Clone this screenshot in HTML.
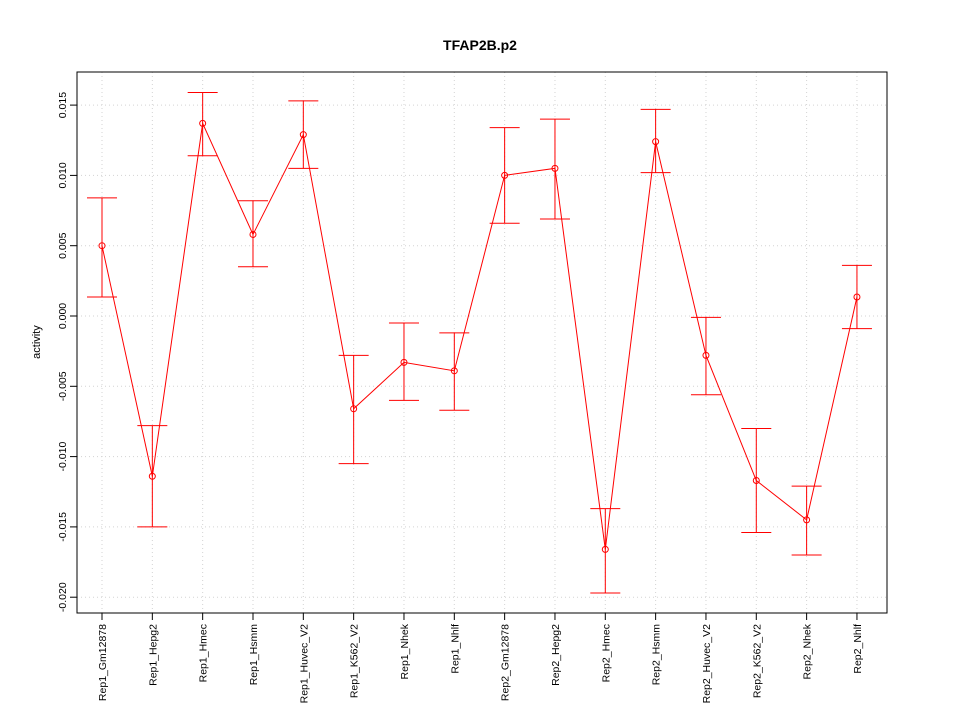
<!DOCTYPE html>
<html><head><meta charset="utf-8"><style>
body{margin:0;background:#fff}
svg text{font-family:"Liberation Sans",sans-serif}
</style></head><body>
<svg id="chart" width="960" height="720">
<text x="480" y="50" text-anchor="middle" font-size="14" font-weight="bold">TFAP2B.p2</text>
<text transform="translate(40,342) rotate(-90)" text-anchor="middle" font-size="11">activity</text>
<g id="grid"></g><g id="axes"></g><g id="marks"></g>
<rect x="77" y="72" width="810" height="541" fill="none" stroke="#000"/>
</svg>
<script>
const categories=["Rep1_Gm12878","Rep1_Hepg2","Rep1_Hmec","Rep1_Hsmm","Rep1_Huvec_V2","Rep1_K562_V2","Rep1_Nhek","Rep1_Nhlf","Rep2_Gm12878","Rep2_Hepg2","Rep2_Hmec","Rep2_Hsmm","Rep2_Huvec_V2","Rep2_K562_V2","Rep2_Nhek","Rep2_Nhlf"];
const values=[0.0050,-0.0114,0.0137,0.0058,0.0129,-0.0066,-0.0033,-0.0039,0.0100,0.0105,-0.0166,0.0124,-0.0028,-0.0117,-0.0145,0.00135];
const upper=[0.0084,-0.0078,0.0159,0.0082,0.0153,-0.0028,-0.0005,-0.0012,0.0134,0.0140,-0.0137,0.0147,-0.0001,-0.0080,-0.0121,0.0036];
const lower=[0.00135,-0.0150,0.0114,0.0035,0.0105,-0.0105,-0.0060,-0.0067,0.0066,0.0069,-0.0197,0.0102,-0.0056,-0.0154,-0.0170,-0.0009];
const yTicks=[-0.02,-0.015,-0.01,-0.005,0,0.005,0.01,0.015];
const yTickLabels=["-0.020","-0.015","-0.010","-0.005","0.000","0.005","0.010","0.015"];
const NS="http://www.w3.org/2000/svg";
function y(v){return 316-v*14060;}
function x(i){return 102+i*50.33;}
function mk(t,a,p){const e=document.createElementNS(NS,t);for(const k in a)e.setAttribute(k,a[k]);p.appendChild(e);return e;}
const grid=document.getElementById('grid'),axes=document.getElementById('axes'),marks=document.getElementById('marks');
yTicks.forEach((t,i)=>{
 const g=mk('line',{x1:77,x2:887,y1:y(t),y2:y(t),stroke:'#d3d3d3','stroke-dasharray':'1,3'},grid);
 
 
 const tk=mk('line',{x1:70,x2:77,y1:y(t),y2:y(t),stroke:'#000'},axes);
 
 
 const tx=mk('text',{transform:`translate(66,${y(t)}) rotate(-90)`,'text-anchor':'middle','font-size':10.5},axes);
 tx.textContent=yTickLabels[i];
 
 
});
categories.forEach((c,i)=>{
 const g=mk('line',{x1:x(i),x2:x(i),y1:72,y2:613,stroke:'#d3d3d3','stroke-dasharray':'1,3'},grid);
 
 
 const tk=mk('line',{x1:x(i),x2:x(i),y1:613,y2:620,stroke:'#000'},axes);
 
 
 const tx=mk('text',{transform:`translate(${x(i)+4},624) rotate(-90)`,'text-anchor':'end','font-size':10.5},axes);
 tx.textContent=c;
 
 
});
const pl=mk('polyline',{points:values.map((v,i)=>x(i)+','+y(v)).join(' '),fill:'none',stroke:'#f00'},marks);


values.forEach((v,i)=>{
 const eb=mk('path',{d:`M${x(i)},${y(upper[i])}V${y(lower[i])}M${x(i)-15},${y(upper[i])}H${x(i)+15}M${x(i)-15},${y(lower[i])}H${x(i)+15}`,stroke:'#f00',fill:'none'},marks);
 
 
 const p=mk('circle',{cx:x(i),cy:y(v),r:3,fill:'none',stroke:'#f00'},marks);
 
 
});
</script>
</body></html>
